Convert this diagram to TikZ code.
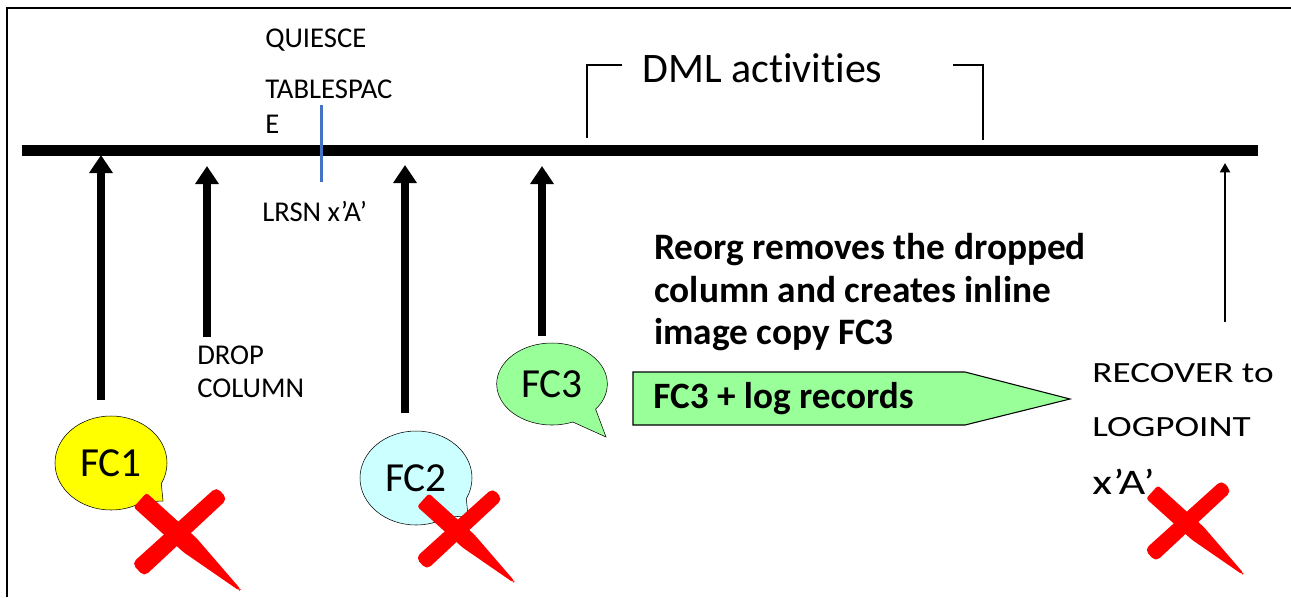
\documentclass[tikz,border=0pt]{standalone}
\usepackage{fontspec}
\setmainfont{Carlito}[Ligatures=NoCommon]
\newfontfamily\widefont{Carlito}[FakeStretch=1.27]
\usetikzlibrary{arrows.meta,shapes.callouts}
\definecolor{lrsnblue}{RGB}{68,114,196}
\definecolor{fcyellow}{RGB}{255,255,0}
\definecolor{fccyan}{RGB}{204,255,255}
\definecolor{fcgreen}{RGB}{153,255,153}
\newcommand\redcross[3]{%
  \begin{scope}[shift={(#1,#2)},scale=#3]
    \fill[red,rounded corners=2pt] (6.5,-7.2) -- (56.5,38.1) -- (100.7,89.3) -- (99.3,90.7) -- (43.5,52.2) -- (-6.5,7.2) -- cycle;
    \fill[red,rounded corners=4pt] (76.6,-13.0) -- (87.4,-1.0) -- (4.1,76.6) -- (-8.1,63.4) -- cycle;
  \end{scope}}
\begin{document}
\begin{tikzpicture}[x=0.75pt,y=-0.75pt,
  timeline/.style={line width=8.25pt},
  bigarrow/.style={line width=6pt,-{Triangle[width=17pt,length=13.5pt]}},
  thinarrow/.style={line width=1.5pt,-{Triangle[width=7.5pt,length=7pt]}},
  bubble/.style={draw,ellipse callout,inner sep=0pt,callout pointer arc=30,
    minimum width=84pt,minimum height=70.5pt,font=\fontsize{31}{31}\selectfont},
  lbl/.style={inner sep=0pt,align=left,font=\fontsize{21.5}{24.75}\selectfont}]
  \useasboundingbox (0,0) rectangle (1291,597);
  % frame
  \draw[line width=1.5pt] (7,597) -- (7,8) -- (1291,8);
  % time line
  \coordinate (tl) at (22,150);
  \coordinate (tr) at (1258,150);
  \draw[timeline] (tl) -- (tr);
  % quiesce point
  \node[lbl,anchor=base west] (quiesce) at (265,47) {QUIESCE};
  \node[lbl,anchor=north west,font=\fontsize{21.5}{26.25}\selectfont] (tblspace) at (265,80) {TABLESPAC\\E};
  \node[lbl,anchor=base west] (lrsn) at (262,221) {LRSN x’A’};
  \coordinate (qtop) at (321,105);
  \coordinate (qbot) at (321,182);
  \draw[lrsnblue,line width=2.25pt] (qtop) -- (qbot);
  % DML bracket
  \node[inner sep=0pt,anchor=base west,font=\fontsize{31.5}{31.5}\selectfont] (dml) at (642,82) {DML activities};
  \draw[line width=1.1pt] (587,138) -- (587,65) -- (622,65);
  \draw[line width=1.1pt] (953,65) -- (983,65) -- (983,140);
  % events
  \node[lbl,anchor=north west] (drop) at (197,346) {DROP\\COLUMN};
  \node[bubble,fill=fcyellow,callout absolute pointer={(163,501)}] (fc1) at (111,463) {FC1};
  \node[bubble,fill=fccyan,callout absolute pointer={(468,516)}] (fc2) at (416,478) {FC2};
  \node[bubble,fill=fcgreen,minimum height=61.5pt,minimum width=83pt,callout absolute pointer={(606,437)}] (fc3) at (552,384) {FC3};
  \coordinate (a1s) at (101,400);  \coordinate (a1e) at (101,155);
  \coordinate (a2s) at (207,337);  \coordinate (a2e) at (207,166);
  \coordinate (a3s) at (405,413);  \coordinate (a3e) at (405,165);
  \coordinate (a4s) at (542,336);  \coordinate (a4e) at (542,166);
  \coordinate (a5s) at (1225,322); \coordinate (a5e) at (1225,163);
  \draw[bigarrow] (a1s) -- (a1e);
  \draw[bigarrow] (a2s) -- (a2e);
  \draw[bigarrow] (a3s) -- (a3e);
  \draw[bigarrow] (a4s) -- (a4e);
  \draw[thinarrow] (a5s) -- (a5e);
  % reorg
  \node[inner sep=0pt,anchor=north west,align=left,font=\bfseries\fontsize{28}{32}\selectfont] (reorg) at (654,233)
    {Reorg removes the dropped\\column and creates inline\\image copy FC3};
  \filldraw[fill=fcgreen,line width=0.8pt] (633,372) -- (965,372) -- (1070,399) -- (965,425) -- (633,425) -- cycle;
  \node[inner sep=0pt,anchor=base west,font=\bfseries\fontsize{27.9}{27.9}\selectfont] (logtxt) at (653,408) {FC3 + log records};
  \node[inner sep=0pt,anchor=north west,align=left,font=\widefont\fontsize{22}{41}\selectfont] (recover) at (1092,363)
    {RECOVER to\\LOGPOINT\\[2pt]{\fontsize{27}{27}\selectfont x’A’}};
  % crossed out copies
  \redcross{140}{500}{1}
  \redcross{423}{500}{0.91}
  \redcross{1152}{492}{0.91}
\end{tikzpicture}
\end{document}
